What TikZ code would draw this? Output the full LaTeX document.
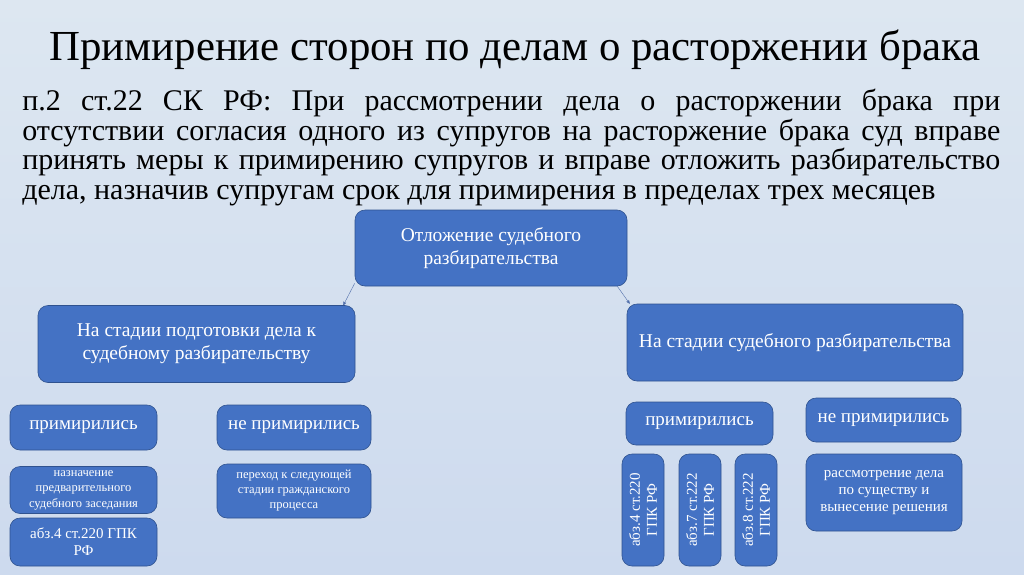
\documentclass[tikz,border=0pt]{standalone}
\usepackage{fontspec}
\setmainfont{Liberation Serif}
\usetikzlibrary{arrows,positioning,calc}
\definecolor{bgtop}{RGB}{221,231,241}
\definecolor{bgmid}{RGB}{174,195,228}
\definecolor{bgbot}{RGB}{205,218,238}
\definecolor{boxfill}{RGB}{68,114,196}
\definecolor{boxline}{RGB}{47,82,143}
\definecolor{arrowline}{RGB}{80,110,170}
\begin{document}
\begin{tikzpicture}[x=1pt,y=-1pt,->,>=stealth',semithick]
\tikzstyle{block} = [rectangle, rounded corners=10pt, draw=boxline, fill=boxfill, text=white, align=center, inner sep=2pt, font=\fontsize{19.5}{23}\selectfont]
\tikzstyle{answer} = [block, font=\fontsize{19}{22}\selectfont]
\tikzstyle{detail} = [block, font=\fontsize{12.5}{15}\selectfont]
\tikzstyle{law} = [block, font=\fontsize{15}{17}\selectfont]

% background
\shade[top color=bgtop, middle color=bgmid, bottom color=bgbot, draw=none] (0,0) rectangle (1024,574);
\useasboundingbox (0,0) rectangle (1024,574);

\node[anchor=base, inner sep=0pt, font=\fontsize{42.8}{48}\selectfont] (TITLE) at (515,60)
   {Примирение сторон по делам о расторжении брака};

\node[anchor=north west, inner sep=0pt, text width=978pt, align=justify, font=\fontsize{30}{29.6}\selectfont] (ARTICLE) at (22,89)
   {п.2 ст.22 СК РФ: При рассмотрении дела о расторжении брака при\linebreak
    отсутствии согласия одного из супругов на расторжение брака суд вправе\linebreak
    принять меры к примирению супругов и вправе отложить разбирательство\linebreak
    дела, назначив супругам срок для примирения в пределах трех месяцев};

\node[block, minimum width=272pt, minimum height=76pt] (DELAY) at (491,248)
   {Отложение судебного\\разбирательства};

\node[block, minimum width=317pt, minimum height=77pt] (PREPSTAGE) at (196.5,344)
   {На стадии подготовки дела к\\судебному разбирательству};

\node[block, minimum width=336pt, minimum height=77pt] (TRIALSTAGE) at (795,342.5)
   {На стадии судебного разбирательства};

\node[answer, minimum width=147pt, minimum height=45pt] (PREPYES) at (83.5,427.5)
   {примирились};

\node[answer, minimum width=154pt, minimum height=45pt] (PREPNO) at (294,427.5)
   {не примирились};

\node[detail, font=\fontsize{12.5}{15.5}\selectfont, inner sep=1pt, minimum width=147pt, minimum height=47pt] (PREPHEARING) at (83.5,490)
   {назначение\\предварительного\\судебного заседания};

\node[law, minimum width=147pt, minimum height=48pt] (PREPLAW) at (83.5,542)
   {абз.4 ст.220 ГПК\\РФ};

\node[detail, minimum width=154pt, minimum height=54pt] (NEXTSTAGE) at (294,491)
   {переход к следующей\\стадии гражданского\\процесса};

\node[answer, minimum width=147pt, minimum height=43pt] (TRIALYES) at (699.5,423.5)
   {примирились};

\node[answer, minimum width=155pt, minimum height=44pt] (TRIALNO) at (883.5,420)
   {не примирились};

\node[law, rotate=90, minimum width=112pt, minimum height=42pt] (LAWA) at (643,510)
   {абз.4 ст.220\\ГПК РФ};
\node[law, rotate=90, minimum width=112pt, minimum height=42pt] (LAWB) at (700,510)
   {абз.7 ст.222\\ГПК РФ};
\node[law, rotate=90, minimum width=112pt, minimum height=42pt] (LAWC) at (756,510)
   {абз.8 ст.222\\ГПК РФ};

\node[law, minimum width=156pt, minimum height=77pt] (DECISION) at (884,492.5)
   {рассмотрение дела\\по существу и\\вынесение решения};

\path[draw,->,arrowline,thin] ([yshift=3pt]DELAY.south west) -- ([xshift=-12pt]PREPSTAGE.north east);
\path[draw,->,arrowline,thin] ([xshift=-10pt]DELAY.south east) -- ([xshift=3pt]TRIALSTAGE.north west);
\end{tikzpicture}
\end{document}
